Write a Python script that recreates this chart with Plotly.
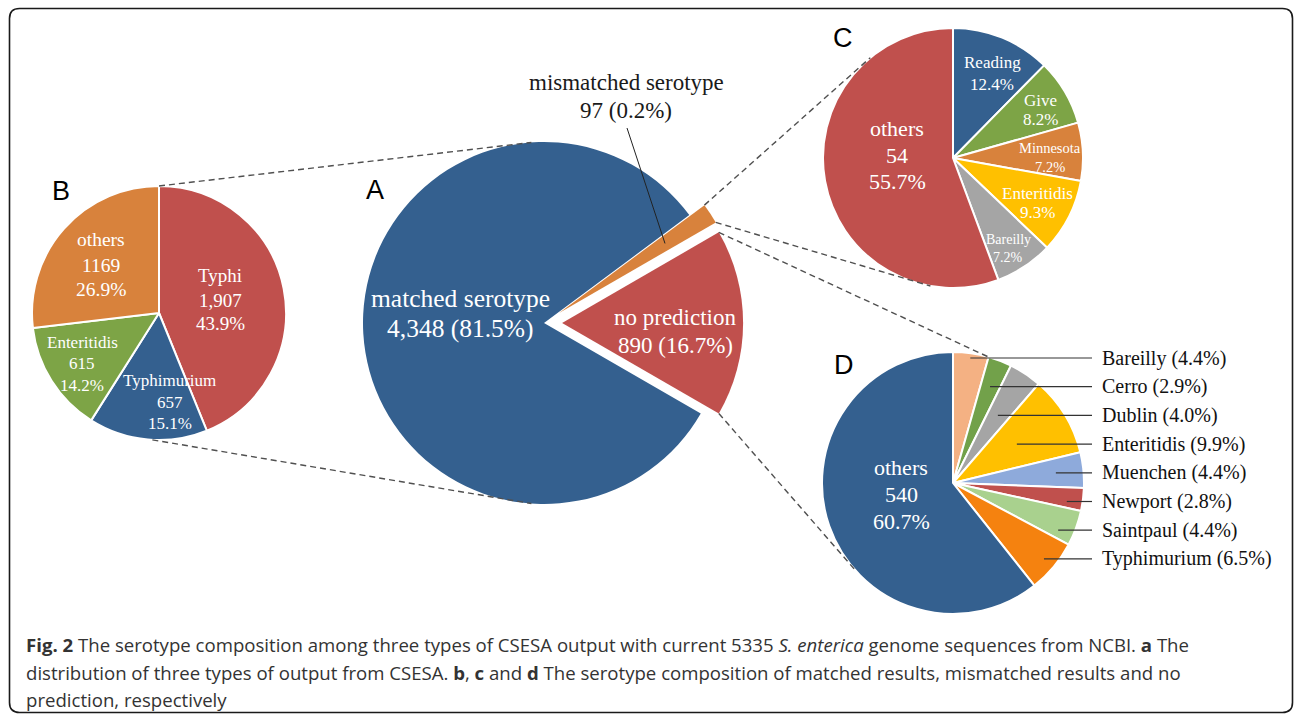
import math
import plotly.graph_objects as go

W, H = 1295, 715

# ---------------- data ----------------
a_labels = ["matched serotype", "mismatched serotype", "no prediction"]
a_values = [4348, 97, 890]
a_count_text = ["4,348", "97", "890"]
a_pct_text = ["81.5%", "0.2%", "16.7%"]

b_labels = ["Typhi", "Typhimurium", "Enteritidis", "others"]
b_values = [1907, 657, 615, 1169]
b_count_text = ["1,907", "657", "615", "1169"]
b_pct_text = ["43.9%", "15.1%", "14.2%", "26.9%"]

c_labels = ["Reading", "Give", "Minnesota", "Enteritidis", "Bareilly", "others"]
c_values = [12, 8, 7, 9, 7, 54]
c_pct_text = ["12.4%", "8.2%", "7.2%", "9.3%", "7.2%", "55.7%"]

d_labels = ["Bareilly", "Cerro", "Dublin", "Enteritidis", "Muenchen",
            "Newport", "Saintpaul", "Typhimurium", "others"]
d_values = [39, 26, 36, 88, 39, 25, 39, 58, 540]
d_pct_text = ["4.4%", "2.9%", "4.0%", "9.9%", "4.4%", "2.8%", "4.4%", "6.5%", "60.7%"]

caption_lines = [
    "<b>Fig. 2</b> The serotype composition among three types of CSESA output with current 5335 "
    "<i>S. enterica</i> genome sequences from NCBI. <b>a</b> The",
    "distribution of three types of output from CSESA. <b>b</b>, <b>c</b> and <b>d</b> The serotype "
    "composition of matched results, mismatched results and no",
    "prediction, respectively",
]

# ---------------- styles ----------------
BLUE, RED, ORANGE, GREEN = "#34608F", "#C0504D", "#D8823C", "#7DA446"
YELLOW, GRAY = "#FFC000", "#A5A5A5"
a_colors = [BLUE, ORANGE, RED]
b_colors = [RED, BLUE, GREEN, ORANGE]
c_colors = [BLUE, GREEN, ORANGE, YELLOW, GRAY, RED]
d_colors = ["#F4B183", "#72A14A", GRAY, YELLOW, "#8EAADB", RED, "#A9D18E", "#F5820F", BLUE]

SERIF = "Liberation Serif, Times New Roman, serif"
SANS = "Liberation Sans, Arial, sans-serif"

# pie geometry (pixel centre, radius, pull, rotation)
geo = {
    "A": dict(cx=544, cy=323, r=181, pull=[0, 0.1, 0.1], rot=120),
    "B": dict(cx=159, cy=313, r=127, pull=[0] * 4, rot=0),
    "C": dict(cx=953, cy=158, r=130, pull=[0] * 6, rot=0),
    "D": dict(cx=953, cy=483, r=131, pull=[0] * 9, rot=0),
}


def domain(g):
    s = 2 * g["r"] * (1 + max(g["pull"]))
    return dict(x=[(g["cx"] - s / 2) / W, (g["cx"] + s / 2) / W],
                y=[1 - (g["cy"] + s / 2) / H, 1 - (g["cy"] - s / 2) / H])


def angles(values, rot):
    tot = float(sum(values))
    out, cur = [], rot
    for v in values:
        a = 360.0 * v / tot
        out.append((cur, cur + a))
        cur += a
    return out


def pt(cx, cy, r, ang):
    t = math.radians(ang)
    return cx + r * math.sin(t), cy - r * math.cos(t)


def P(x, y):
    return x / W, 1 - y / H


fig = go.Figure()
for key, vals, labs, cols, lw in [("A", a_values, a_labels, a_colors, 0),
                                   ("B", b_values, b_labels, b_colors, 2),
                                   ("C", c_values, c_labels, c_colors, 2),
                                   ("D", d_values, d_labels, d_colors, 2)]:
    g = geo[key]
    fig.add_trace(go.Pie(
        values=vals, labels=labs, sort=False, direction="clockwise",
        rotation=g["rot"], pull=g["pull"], domain=domain(g),
        marker=dict(colors=cols, line=dict(color="white", width=lw)),
        textinfo="none", hoverinfo="label+value", showlegend=False,
    ))

shapes = []
annotations = []


def line(p0, p1, dash="6px,4px", color="#505050", width=1.4):
    (x0, y0), (x1, y1) = P(*p0), P(*p1)
    shapes.append(dict(type="line", xref="paper", yref="paper", x0=x0, y0=y0, x1=x1, y1=y1,
                       line=dict(color=color, width=width, dash=dash)))


def text(x, y, s, size, color="white", family=SERIF, anchor="center"):
    xx, yy = P(x, y)
    annotations.append(dict(x=xx, y=yy, xref="paper", yref="paper", text=s, showarrow=False,
                            xanchor=anchor, yanchor="middle",
                            font=dict(family=family, size=size, color=color)))


def block(x, y_list, lines, size, color="white"):
    for yy, s in zip(y_list, lines):
        text(x, yy, s, size, color)


# ---- connectors between pies ----
gA, gB, gC, gD = geo["A"], geo["B"], geo["C"], geo["D"]
angA = angles(a_values, gA["rot"])


def pulled_center(i):
    a0, a1 = angA[i]
    return pt(gA["cx"], gA["cy"], gA["pull"][i] * gA["r"], (a0 + a1) / 2)


line(pt(gB["cx"], gB["cy"], gB["r"], 0), pt(gA["cx"], gA["cy"], gA["r"], -4))
line(pt(gB["cx"], gB["cy"], gB["r"], 183), pt(gA["cx"], gA["cy"], gA["r"], 184))
ocx, ocy = pulled_center(1)
rcx, rcy = pulled_center(2)
line(pt(ocx, ocy, gA["r"], angA[1][0]), pt(gC["cx"], gC["cy"], gC["r"], -39.5))
line(pt(ocx, ocy, gA["r"], angA[1][1]), pt(gC["cx"], gC["cy"], gC["r"], 190))
line(pt(rcx, rcy, gA["r"], angA[2][0]), pt(gD["cx"], gD["cy"], gD["r"], 15.5))
line(pt(rcx, rcy, gA["r"], angA[2][1]), pt(gD["cx"], gD["cy"], gD["r"], 227.8))

# ---- pie A labels ----
block(460, [298, 328], [a_labels[0], f"{a_count_text[0]} ({a_pct_text[0]})"], 25.5)
block(675, [317, 345], [a_labels[2], f"{a_count_text[2]} ({a_pct_text[2]})"], 23)
block(626, [82, 110], [a_labels[1], f"{a_count_text[1]} ({a_pct_text[1]})"], 23, "#1a1a1a")
omid = (angA[1][0] + angA[1][1]) / 2
line((627, 128), pt(ocx, ocy, 0.7 * gA["r"], omid), dash="solid", color="#222222", width=1)

# ---- pie B labels ----
b_pos = [(220, [275, 300, 323], 19), (170, [380, 402, 423], 17),
         (82, [342, 363, 385], 17), (101, [240, 265, 289], 19.5)]
for (x, ys, sz), lab, cnt, pc in zip(b_pos, b_labels, b_count_text, b_pct_text):
    block(x, ys, [lab, cnt, pc], sz)

# ---- pie C labels ----
c_pos = [(992, [63, 85], 17), (1040, [100, 120], 17), (1050, [148, 167], 14.5),
         (1037, [193, 213], 17), (1008, [240, 258], 14)]
for (x, ys, sz), lab, pc in zip(c_pos, c_labels[:-1], c_pct_text[:-1]):
    block(x, ys, [lab, pc], sz)
block(897, [129, 155, 182], [c_labels[-1], str(c_values[-1]), c_pct_text[-1]], 22)

# ---- pie D labels ----
block(901, [467, 494, 521], [d_labels[-1], str(d_values[-1]), d_pct_text[-1]], 22)
angD = angles(d_values, gD["rot"])
for i, (lab, pc) in enumerate(zip(d_labels[:-1], d_pct_text[:-1])):
    y = 358 + i * 28.7
    mid = (angD[i][0] + angD[i][1]) / 2
    dy = gD["cy"] - y
    t = math.radians(mid)
    x0 = gD["cx"] + dy * math.tan(t)
    if dy * math.cos(t) < 0 or math.hypot(x0 - gD["cx"], dy) > gD["r"]:
        rr = 0.88 * gD["r"]
        x0 = gD["cx"] + math.sqrt(max(rr ** 2 - dy ** 2, 0))
    line((x0, y), (1092, y), dash="solid", color="#333333", width=1.2)
    text(1100, y, f"{lab} ({pc})", 20, "#111111", anchor="left")

# ---- panel letters ----
for s, (x, y) in zip("ABCD", [(375, 190), (61, 191), (843, 38), (844, 365)]):
    text(x, y, s, 27, "black", SANS)

# ---- caption ----
for s, y in zip(caption_lines, [644, 672, 699]):
    text(24, y, s, 18.6, "#333333", "Open Sans, Noto Sans, sans-serif", anchor="left")

# ---- rounded frame ----
L, T, R_, B_, rc = 9.5, 8.5, 1292.5, 712.5, 10


def q(x, y):
    a, b = P(x, y)
    return f"{a:.5f},{b:.5f}"


path = (f"M{q(L + rc, T)} L{q(R_ - rc, T)} Q{q(R_, T)} {q(R_, T + rc)} "
        f"L{q(R_, B_ - rc)} Q{q(R_, B_)} {q(R_ - rc, B_)} "
        f"L{q(L + rc, B_)} Q{q(L, B_)} {q(L, B_ - rc)} "
        f"L{q(L, T + rc)} Q{q(L, T)} {q(L + rc, T)} Z")
shapes.append(dict(type="path", xref="paper", yref="paper", path=path,
                   line=dict(color="#1a1a1a", width=1.6)))

fig.update_layout(width=W, height=H, margin=dict(l=0, r=0, t=0, b=0),
                  paper_bgcolor="white", plot_bgcolor="white",
                  shapes=shapes, annotations=annotations, showlegend=False)

fig.write_html("out.html", config={"displayModeBar": False},
               post_script="document.body.style.margin='0';")
